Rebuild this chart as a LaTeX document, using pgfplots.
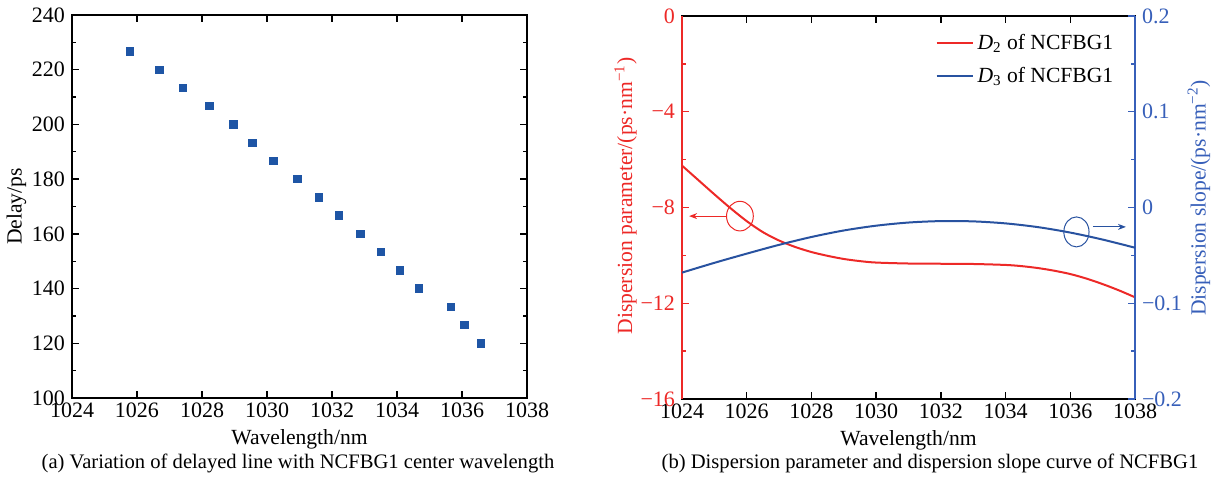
\documentclass[border=0pt]{standalone}
\usepackage{fontspec}
\setmainfont{Liberation Serif}
\usepackage{pgfplots}
\pgfplotsset{compat=1.18}
\usetikzlibrary{arrows.meta}
\definecolor{redc}{RGB}{237,41,39}
\definecolor{bluec}{RGB}{40,82,160}
\definecolor{bluem}{RGB}{30,85,165}
\definecolor{bluet}{RGB}{55,95,185}
\begin{document}
\begin{tikzpicture}[font=\fontsize{10.8}{13}\selectfont]
\path[use as bounding box] (0,0) rectangle (608pt,241pt);
\pgfplotsset{
  common/.style={
    scale only axis, width=227.5pt, height=191.5pt,
    tick align=inside, major tick length=3.5pt, minor tick length=2pt,
    axis line style={line width=0.8pt},
    tick style={line width=0.7pt, black},
    /pgf/number format/assume math mode=true,
    /pgf/number format/1000 sep={},
    tick label style={font=\fontsize{11}{13}\selectfont},
    xmin=1024, xmax=1038, xtick={1024,1026,...,1038}, minor x tick num=1,
    xlabel={Wavelength/nm},
    xticklabel style={yshift=1pt},
    xlabel style={yshift=1pt},
  }}
\begin{axis}[common, at={(36pt,42pt)}, anchor=south west,
  ymin=100, ymax=240, ytick={100,120,...,240}, minor y tick num=1,
  ylabel={Delay/ps}, ylabel style={yshift=-4pt}]
\addplot[only marks, mark=square*, mark size=1.85pt, color=bluem] coordinates {
(1025.79,226.7) (1026.69,220) (1027.42,213.3) (1028.23,206.7) (1028.97,200)
(1029.55,193.3) (1030.20,186.7) (1030.93,180) (1031.60,173.3) (1032.22,166.7)
(1032.87,160) (1033.51,153.3) (1034.08,146.7) (1034.67,140) (1035.65,133.3)
(1036.07,126.7) (1036.58,120)};
\end{axis}
\node[anchor=base, font=\fontsize{10.3}{12}\selectfont] at (149pt,6.5pt) {(a) Variation of delayed line with NCFBG1 center wavelength};

\begin{axis}[common, at={(341pt,41.5pt)}, anchor=south west, width=226.5pt,
  ymin=-16, ymax=0, ytick={-16,-12,-8,-4,0}, yticklabels={−16,−12,−8,−4,0},
  minor y tick num=1, ytick pos=left, y tick style={redc}, yticklabel style={redc},
  ylabel={Dispersion parameter/(ps·nm\textsuperscript{−1})},
  ylabel style={redc, at={(ticklabel cs:0.53)}, yshift=-5pt}, clip=false,
  legend style={draw=none, fill=none, at={(0.975,0.975)}, anchor=north east, row sep=3.5pt},
  legend cell align=left,
  legend image code/.code={\draw[#1] (0pt,0pt) -- (18pt,0pt);}]
\addplot[redc, line width=1pt, smooth] coordinates {
(1024,-6.25) (1024.5,-6.85) (1025,-7.45) (1025.5,-8.03) (1026,-8.57) (1026.5,-9.03)
(1027,-9.38) (1027.5,-9.65) (1028,-9.86) (1028.5,-10.02) (1029,-10.15) (1029.5,-10.24)
(1030,-10.3) (1031,-10.34) (1032,-10.35) (1033,-10.36) (1034,-10.4) (1034.5,-10.45)
(1035,-10.53) (1035.5,-10.64) (1036,-10.78) (1036.5,-10.97) (1037,-11.2) (1037.5,-11.46)
(1038,-11.75)};
\addlegendentry{\textit{D}\textsubscript{2} of NCFBG1}
\addlegendimage{bluec, line width=1pt}
\addlegendentry{\textit{D}\textsubscript{3} of NCFBG1}
\draw[redc, line width=0.8pt] (rel axis cs:0,0) -- (rel axis cs:0,1);
\draw[redc, line width=0.5pt] (axis cs:1025.79,-8.36) ellipse [x radius=6.7pt, y radius=7.4pt];
\draw[redc, line width=0.5pt, -{Stealth[length=4pt,width=3pt]}] ([xshift=-6.7pt]axis cs:1025.79,-8.36) -- (axis cs:1024.22,-8.36);
\draw[bluec, line width=0.5pt] (axis cs:1036.19,-9.02) ellipse [x radius=6.3pt, y radius=7.5pt];
\draw[bluec, line width=0.5pt, -{Stealth[length=4pt,width=3pt]}] (axis cs:1036.70,-8.81) -- (axis cs:1037.72,-8.81);
\end{axis}

\begin{axis}[common, at={(341pt,41.5pt)}, anchor=south west, width=226.5pt,
  xlabel={}, axis x line=none, axis y line*=right,
  ymin=-0.2, ymax=0.2, ytick={-0.2,-0.1,0,0.1,0.2}, yticklabels={−0.2,−0.1,0,0.1,0.2},
  minor y tick num=1, y axis line style={-, bluet}, y tick style={bluet},
  yticklabel style={bluet},
  ylabel={Dispersion slope/(ps·nm\textsuperscript{−2})},
  ylabel style={bluet, at={(ticklabel cs:0.525)}, yshift=4pt}]
\addplot[bluec, line width=1pt, smooth] coordinates {
(1024,-0.068) (1025,-0.0578) (1026,-0.0482) (1027,-0.0390) (1028,-0.0308) (1029,-0.0240)
(1030,-0.0190) (1031,-0.0157) (1032,-0.0142) (1033,-0.0145) (1034,-0.0166) (1035,-0.0205)
(1036,-0.0262) (1037,-0.0335) (1038,-0.0420)};
\end{axis}
\node[anchor=base, font=\fontsize{10.3}{12}\selectfont] at (465pt,6.5pt) {(b) Dispersion parameter and dispersion slope curve of NCFBG1};
\end{tikzpicture}
\end{document}
